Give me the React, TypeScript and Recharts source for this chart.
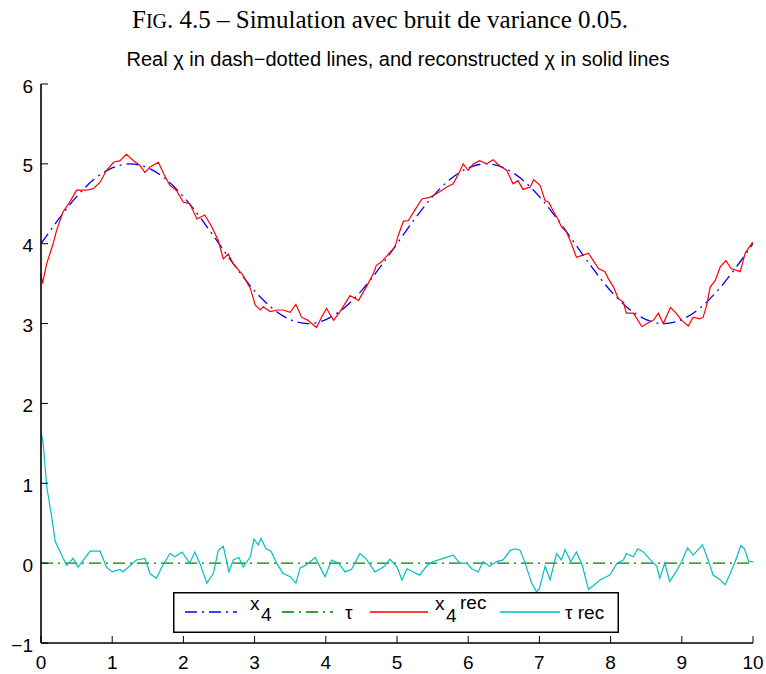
import React from 'react';
import { LineChart, Line, XAxis, YAxis, Legend } from 'recharts';

// Time samples of the true state x4 (period 5, between 3 and 5)
const tTrue = [
  0, 0.25, 0.5, 0.75, 1, 1.25, 1.5, 1.75, 2, 2.25, 2.5, 2.75, 3, 3.25, 3.5, 3.75, 4, 4.25, 4.5, 4.75,
  5, 5.25, 5.5, 5.75, 6, 6.25, 6.5, 6.75, 7, 7.25, 7.5, 7.75, 8, 8.25, 8.5, 8.75, 9, 9.25, 9.5, 9.75, 10,
];
const x4True = [
  4.0, 4.31, 4.59, 4.81, 4.95, 5.0, 4.95, 4.81, 4.59, 4.31, 4.0, 3.69, 3.41, 3.19, 3.05, 3.0, 3.05, 3.19, 3.41, 3.69,
  4.0, 4.31, 4.59, 4.81, 4.95, 5.0, 4.95, 4.81, 4.59, 4.31, 4.0, 3.69, 3.41, 3.19, 3.05, 3.0, 3.05, 3.19, 3.41, 3.69, 4.0,
];

// True tau (identically zero)
const tTau = [0, 10];
const tauTrue = [0, 0];

// Reconstructed x4
const tX4Rec = [
  0, 0.02, 0.08, 0.17, 0.22, 0.31, 0.41, 0.5, 0.64, 0.735, 0.83, 0.92, 1.02, 1.11, 1.2, 1.3, 1.39, 1.46, 1.53, 1.65,
  1.72, 1.81, 1.9, 2.0, 2.09, 2.19, 2.3, 2.4, 2.49, 2.56, 2.63, 2.7, 2.84, 2.94, 3.01, 3.08, 3.12, 3.22, 3.32, 3.4,
  3.5, 3.58, 3.66, 3.75, 3.87, 3.94, 4.01, 4.11, 4.2, 4.34, 4.46, 4.57, 4.67, 4.71, 4.78, 4.86, 4.97, 5.02, 5.09, 5.16,
  5.25, 5.35, 5.46, 5.56, 5.7, 5.79, 5.88, 5.93, 6.0, 6.07, 6.16, 6.26, 6.35, 6.45, 6.54, 6.63, 6.7, 6.77, 6.87, 6.92,
  7.01, 7.08, 7.13, 7.2, 7.26, 7.31, 7.38, 7.45, 7.52, 7.59, 7.69, 7.77, 7.83, 7.92, 7.97, 8.04, 8.11, 8.18, 8.22, 8.32,
  8.44, 8.51, 8.6, 8.67, 8.74, 8.84, 8.92, 9.0, 9.09, 9.16, 9.25, 9.3, 9.35, 9.4, 9.47, 9.54, 9.62, 9.69, 9.82, 9.89,
  9.98, 10,
];
const x4Rec = [
  3.62, 3.5, 3.75, 4.0, 4.17, 4.4, 4.53, 4.67, 4.67, 4.69, 4.77, 4.92, 5.02, 5.04, 5.12, 5.04, 4.98, 4.89, 4.96, 5.02,
  4.88, 4.73, 4.67, 4.52, 4.5, 4.31, 4.36, 4.21, 4.04, 3.81, 3.87, 3.75, 3.6, 3.44, 3.23, 3.17, 3.21, 3.15, 3.17, 3.17,
  3.14, 3.24, 3.08, 3.04, 2.95, 3.08, 3.19, 3.04, 3.15, 3.35, 3.29, 3.46, 3.63, 3.73, 3.77, 3.85, 3.96, 4.11, 4.28, 4.29,
  4.42, 4.56, 4.58, 4.63, 4.71, 4.75, 4.9, 5.0, 4.92, 5.0, 5.04, 5.0, 5.05, 4.97, 4.92, 4.75, 4.79, 4.68, 4.71, 4.8,
  4.73, 4.54, 4.52, 4.4, 4.31, 4.21, 4.15, 4.0, 3.83, 3.85, 3.88, 3.77, 3.69, 3.65, 3.56, 3.46, 3.31, 3.27, 3.13, 3.13,
  2.96, 3.0, 3.04, 3.13, 3.0, 3.2, 3.13, 3.04, 2.97, 3.08, 3.06, 3.08, 3.23, 3.46, 3.54, 3.71, 3.79, 3.69, 3.65, 3.88,
  4.0, 4.02,
];

// Reconstructed tau
const tTauRec = [
  0, 0.01, 0.03, 0.08, 0.15, 0.2, 0.28, 0.36, 0.45, 0.52, 0.69, 0.83, 0.92, 1.0, 1.11, 1.15, 1.34, 1.46, 1.53, 1.62,
  1.69, 1.81, 1.88, 1.98, 2.09, 2.16, 2.23, 2.33, 2.42, 2.49, 2.56, 2.64, 2.7, 2.78, 2.84, 2.94, 2.99, 3.05, 3.09, 3.16,
  3.23, 3.31, 3.4, 3.5, 3.58, 3.64, 3.73, 3.85, 3.92, 3.99, 4.08, 4.18, 4.27, 4.36, 4.48, 4.57, 4.69, 4.81, 4.9, 5.0,
  5.07, 5.14, 5.23, 5.32, 5.42, 5.51, 5.65, 5.79, 5.88, 5.98, 6.05, 6.14, 6.21, 6.3, 6.4, 6.49, 6.59, 6.66, 6.73, 6.8,
  6.89, 6.96, 7.0, 7.08, 7.15, 7.24, 7.31, 7.36, 7.44, 7.52, 7.6, 7.69, 7.76, 7.85, 7.99, 8.09, 8.18, 8.22, 8.32, 8.38,
  8.46, 8.56, 8.65, 8.69, 8.76, 8.83, 8.93, 9.0, 9.08, 9.16, 9.23, 9.29, 9.37, 9.44, 9.54, 9.61, 9.68, 9.75, 9.83, 9.88,
  9.94, 10,
];
const tauRec = [
  1.62, 1.6, 1.5, 0.96, 0.58, 0.27, 0.12, -0.03, 0.06, -0.05, 0.15, 0.15, -0.05, -0.11, -0.08, -0.11, 0.04, 0.06, -0.13, -0.19,
  -0.06, 0.12, 0.08, 0.14, 0.0, 0.14, 0.0, -0.25, -0.13, 0.16, 0.21, -0.11, 0.04, 0.07, -0.05, 0.08, 0.3, 0.23, 0.31, 0.18,
  0.15, 0.0, -0.13, -0.17, -0.25, -0.06, -0.02, 0.07, -0.05, -0.17, 0.04, 0.0, -0.11, -0.08, 0.12, 0.05, -0.11, -0.05, 0.05, -0.05,
  -0.21, -0.07, -0.11, -0.15, -0.03, 0.02, 0.06, 0.1, 0.0, 0.0, -0.07, -0.11, 0.02, -0.04, 0.02, 0.04, 0.16, 0.18, 0.16, 0.0,
  -0.25, -0.36, -0.32, -0.04, -0.21, 0.12, 0.04, 0.17, 0.02, 0.14, -0.02, -0.33, -0.28, -0.21, -0.15, 0.0, 0.04, 0.12, 0.08, 0.18,
  0.14, 0.04, -0.04, -0.19, 0.0, -0.23, -0.09, 0.02, 0.19, 0.1, 0.17, 0.23, 0.04, -0.15, -0.21, -0.27, -0.13, 0.02, 0.22, 0.18,
  0.02, 0.02,
];

const xTicks = [0, 1, 2, 3, 4, 5, 6, 7, 8, 9, 10];
const yTicks = [-1, 0, 1, 2, 3, 4, 5, 6];

const BLUE = '#0000ff';
const GREEN = '#008000';
const RED = '#ff0000';
const CYAN = '#00bfbf';
const DASH_DOT = '12 5 2 5';
const SANS = '"Liberation Sans", Arial, Helvetica, sans-serif';
const SERIF = '"Liberation Serif", "Times New Roman", serif';

const zip = (ts: number[], vs: number[]) => ts.map((t, i) => ({ t, v: vs[i] }));
const trueX4Data = zip(tTrue, x4True);
const trueTauData = zip(tTau, tauTrue);
const recX4Data = zip(tX4Rec, x4Rec);
const recTauData = zip(tTauRec, tauRec);

const fmt = (v: number) => (v < 0 ? '\u2212' + Math.abs(v) : String(v));
const TICK_LEN = 7;

const BottomTick = (p: any) => (
  <g>
    <line x1={p.x} y1={p.y} x2={p.x} y2={p.y - TICK_LEN} stroke="#000" strokeWidth={1} />
    <text x={p.x} y={p.y + 26} textAnchor="middle" fontSize={19} fontFamily={SANS} fill="#000">
      {fmt(p.payload.value)}
    </text>
  </g>
);
const TopTick = (p: any) => (
  <line x1={p.x} y1={p.y} x2={p.x} y2={p.y + TICK_LEN} stroke="#000" strokeWidth={1} />
);
const LeftTick = (p: any) => (
  <g>
    <line x1={p.x} y1={p.y} x2={p.x + TICK_LEN} y2={p.y} stroke="#000" strokeWidth={1} />
    <text x={p.x - 8} y={p.y + 8.5} textAnchor="end" fontSize={19} fontFamily={SANS} fill="#000">
      {fmt(p.payload.value)}
    </text>
  </g>
);
const RightTick = (p: any) => (
  <line x1={p.x} y1={p.y} x2={p.x - TICK_LEN} y2={p.y} stroke="#000" strokeWidth={1} />
);

const LegendBox = () => (
  <svg width={446} height={41} style={{ display: 'block' }}>
    <rect x={0.75} y={0.75} width={444.5} height={39.5} fill="#fff" stroke="#000" strokeWidth={1.5} />
    <line x1={12} y1={20} x2={64} y2={20} stroke={BLUE} strokeWidth={1.3} strokeDasharray={DASH_DOT} />
    <text fontFamily={SANS} fontSize={19} fill="#000">
      <tspan x={77} y={18}>x</tspan>
      <tspan x={88} y={29}>4</tspan>
    </text>
    <line x1={109} y1={20} x2={160} y2={20} stroke={GREEN} strokeWidth={1.3} strokeDasharray={DASH_DOT} />
    <text x={172} y={27} fontFamily={SANS} fontSize={19} fill="#000">τ</text>
    <line x1={197} y1={20} x2={255} y2={20} stroke={RED} strokeWidth={1.3} />
    <text fontFamily={SANS} fontSize={19} fill="#000">
      <tspan x={262} y={18}>x</tspan>
      <tspan x={273} y={30}>4</tspan>
      <tspan x={287} y={17}>rec</tspan>
    </text>
    <line x1={327} y1={20} x2={387} y2={20} stroke={CYAN} strokeWidth={1.3} />
    <text x={392} y={27} fontFamily={SANS} fontSize={19} fill="#000">τ rec</text>
  </svg>
);

export default function App() {
  return (
    <div style={{ position: 'absolute', left: 0, top: 0, width: 766, height: 674, background: '#fff' }}>
      <LineChart width={766} height={674} margin={{ top: 84, right: 13, left: 0, bottom: 0 }}>
        <XAxis
          xAxisId="b"
          type="number"
          dataKey="t"
          domain={[0, 10]}
          ticks={xTicks}
          allowDataOverflow
          height={31}
          tickSize={0}
          tickMargin={0}
          tickLine={false}
          axisLine={{ stroke: '#000', strokeWidth: 1.6 }}
          tick={BottomTick}
          interval={0}
        />
        <XAxis
          xAxisId="t"
          orientation="top"
          type="number"
          dataKey="t"
          domain={[0, 10]}
          ticks={xTicks}
          allowDataOverflow
          height={0}
          tickSize={0}
          tickMargin={0}
          tickLine={false}
          axisLine={{ stroke: '#000', strokeWidth: 1.6 }}
          tick={TopTick}
          interval={0}
        />
        <YAxis
          yAxisId="l"
          type="number"
          domain={[-1, 6]}
          ticks={yTicks}
          allowDataOverflow
          width={41}
          tickSize={0}
          tickMargin={0}
          tickLine={false}
          axisLine={{ stroke: '#000', strokeWidth: 1.6 }}
          tick={LeftTick}
          interval={0}
        />
        <YAxis
          yAxisId="r"
          orientation="right"
          type="number"
          domain={[-1, 6]}
          ticks={yTicks}
          allowDataOverflow
          width={0}
          tickSize={0}
          tickMargin={0}
          tickLine={false}
          axisLine={{ stroke: '#000', strokeWidth: 1.6 }}
          tick={RightTick}
          interval={0}
        />
        <Line xAxisId="b" yAxisId="l" data={trueTauData} dataKey="v" type="linear" stroke={GREEN} strokeWidth={1.3} strokeDasharray={DASH_DOT} dot={false} isAnimationActive={false} />
        <Line xAxisId="b" yAxisId="l" data={recTauData} dataKey="v" type="linear" stroke={CYAN} strokeWidth={1.2} dot={false} isAnimationActive={false} />
        <Line xAxisId="b" yAxisId="l" data={trueX4Data} dataKey="v" type="monotone" stroke={BLUE} strokeWidth={1.3} strokeDasharray={DASH_DOT} dot={false} isAnimationActive={false} />
        <Line xAxisId="b" yAxisId="l" data={recX4Data} dataKey="v" type="linear" stroke={RED} strokeWidth={1.2} dot={false} isAnimationActive={false} />
        <Legend
          layout="vertical"
          align="center"
          verticalAlign="middle"
          content={LegendBox}
          wrapperStyle={{ left: 173, top: 592, width: 446, height: 41 }}
        />
      </LineChart>
      <svg width={766} height={80} style={{ position: 'absolute', left: 0, top: 0, pointerEvents: 'none' }}>
        <text x={380} y={28} textAnchor="middle" fontFamily={SERIF} fontSize={25} fill="#000">
          F<tspan fontSize={20}>IG</tspan>. 4.5 – Simulation avec bruit de variance 0.05.
        </text>
        <text x={398} y={65.5} textAnchor="middle" fontFamily={SANS} fontSize={20} fill="#000">
          Real χ in dash−dotted lines, and reconstructed χ in solid lines
        </text>
      </svg>
    </div>
  );
}
